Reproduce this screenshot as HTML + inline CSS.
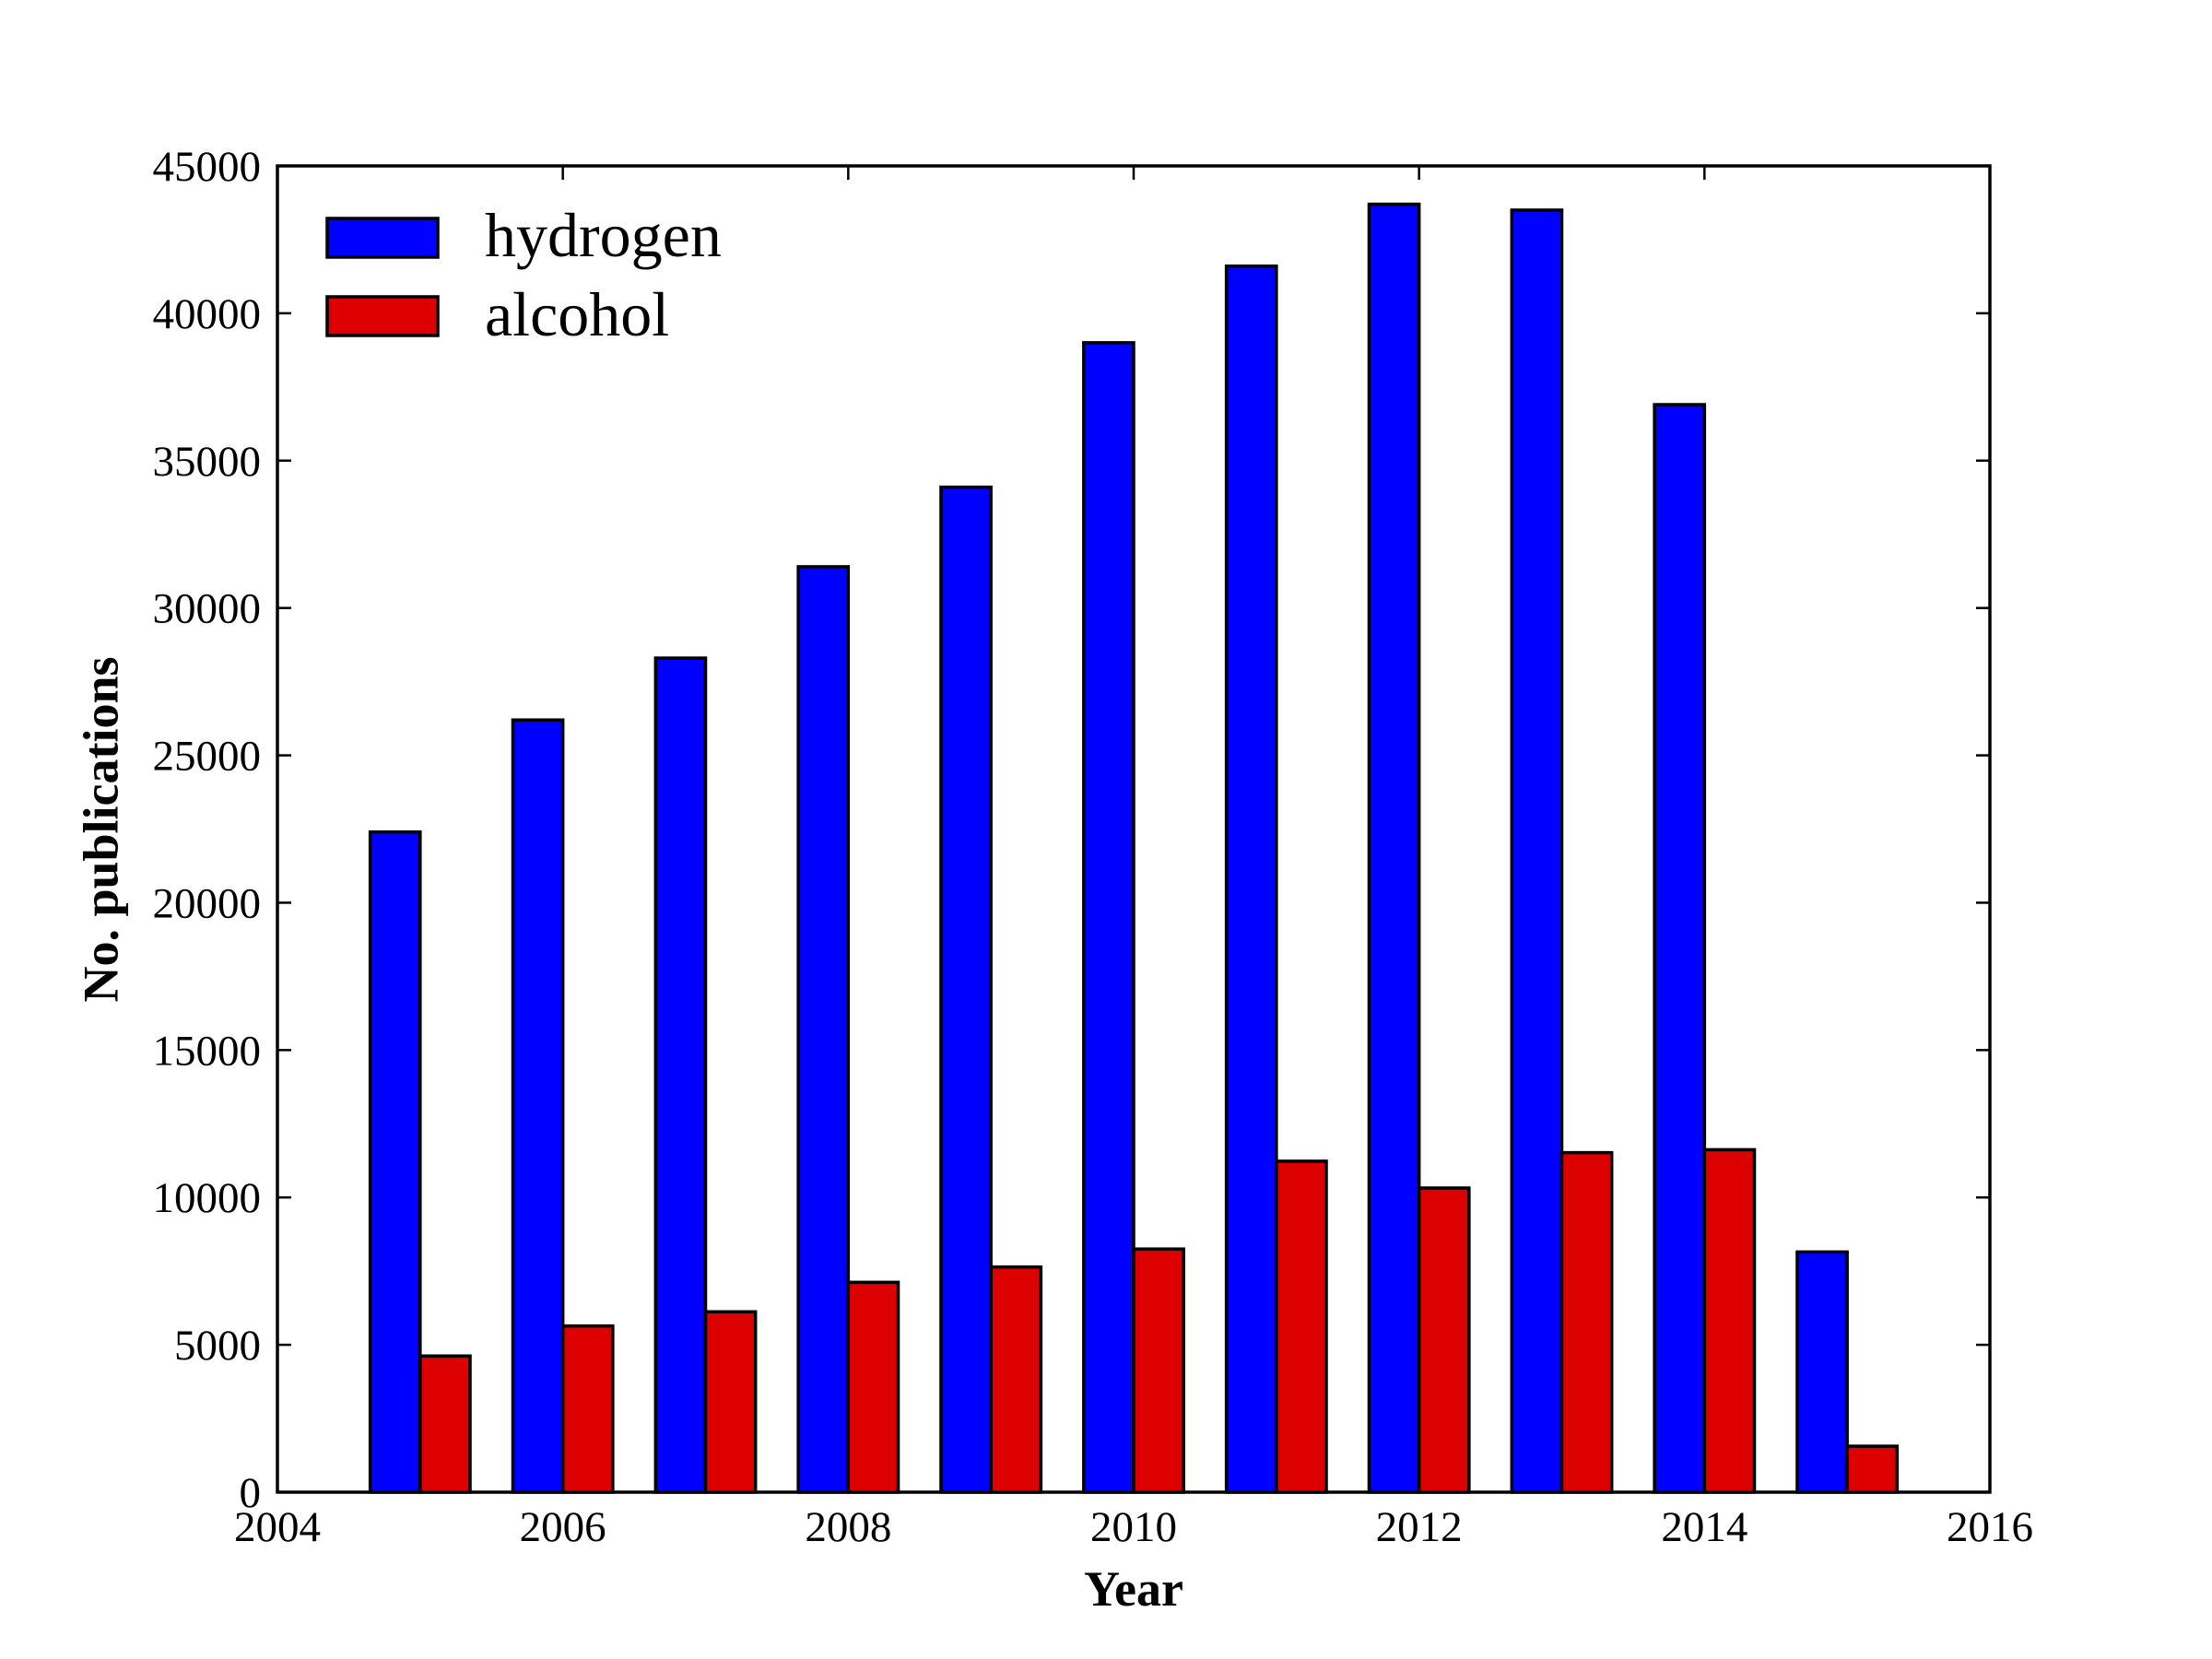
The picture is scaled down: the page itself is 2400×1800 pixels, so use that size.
<!DOCTYPE html>
<html><head><meta charset="utf-8"><style>
html,body{margin:0;padding:0;background:#fff;}
svg{display:block;font-family:"Liberation Serif",serif;}
</style></head><body>
<svg id="chart" width="2400" height="1800" viewBox="0 0 2400 1800">
<g id="bars"></g>
<g id="axes"></g>
<text x="115" y="900" font-size="54" font-weight="bold" text-anchor="middle" transform="rotate(-90 115 900)" dominant-baseline="middle">No. publications</text>
<text x="1230" y="1742" font-size="54" font-weight="bold" text-anchor="middle">Year</text>
<g>
<rect x="355" y="237" width="120" height="42" fill="#0000ff" stroke="#000" stroke-width="3.5"/>
<text x="526" y="278" font-size="68">hydrogen</text>
<rect x="355" y="322" width="120" height="42" fill="#dd0000" stroke="#000" stroke-width="3.5"/>
<text x="526" y="364" font-size="68">alcohol</text>
</g>
</svg>
<script>
const years = [2005,2006,2007,2008,2009,2010,2011,2012,2013,2014,2015];
const hydrogen = [22400,26200,28300,31400,34100,39000,41600,43700,43500,36900,8150];
const alcohol = [4620,5640,6120,7120,7640,8250,11230,10320,11520,11620,1560];
const yTicks = [0,5000,10000,15000,20000,25000,30000,35000,40000,45000];
const xTicks = [2004,2006,2008,2010,2012,2014,2016];

const L=301,R=2159,T=180,B=1619;
const xMin=2004,xMax=2016,yMax=45000;
const X=v=>L+(v-xMin)/(xMax-xMin)*(R-L);
const Y=v=>B-v/yMax*(B-T);
const NS="http://www.w3.org/2000/svg";
const bars=document.getElementById('bars');
const axes=document.getElementById('axes');
const W=0.35;
function mk(tag,attrs,parent){const e=document.createElementNS(NS,tag);for(const k in attrs)e.setAttribute(k,attrs[k]);parent.appendChild(e);return e;}
years.forEach((yr,i)=>{
  const h=mk('rect',{x:X(yr-W),y:Y(hydrogen[i]),width:X(yr)-X(yr-W),height:B-Y(hydrogen[i]),fill:'#0000ff',stroke:'#000','stroke-width':3.5},bars);
  
  
  const a=mk('rect',{x:X(yr),y:Y(alcohol[i]),width:X(yr+W)-X(yr),height:B-Y(alcohol[i]),fill:'#dd0000',stroke:'#000','stroke-width':3.5},bars);
  
  
});
const frame=mk('rect',{x:L,y:T,width:R-L,height:B-T,fill:'none',stroke:'#000','stroke-width':3.5},axes);


yTicks.forEach(v=>{
  const y=Y(v);
  mk('line',{x1:L,x2:L+15,y1:y,y2:y,stroke:'#000','stroke-width':2.5},axes);
  mk('line',{x1:R,x2:R-15,y1:y,y2:y,stroke:'#000','stroke-width':2.5},axes);
  const t=mk('text',{x:283,y:y+16,'font-size':47,'text-anchor':'end'},axes);
  t.textContent=v;
  
  
});
xTicks.forEach(v=>{
  const x=X(v);
  mk('line',{x1:x,x2:x,y1:B,y2:B-15,stroke:'#000','stroke-width':2.5},axes);
  mk('line',{x1:x,x2:x,y1:T,y2:T+15,stroke:'#000','stroke-width':2.5},axes);
  const t=mk('text',{x:x,y:1672,'font-size':47,'text-anchor':'middle'},axes);
  t.textContent=v;
  
  
});
</script>
</body></html>
